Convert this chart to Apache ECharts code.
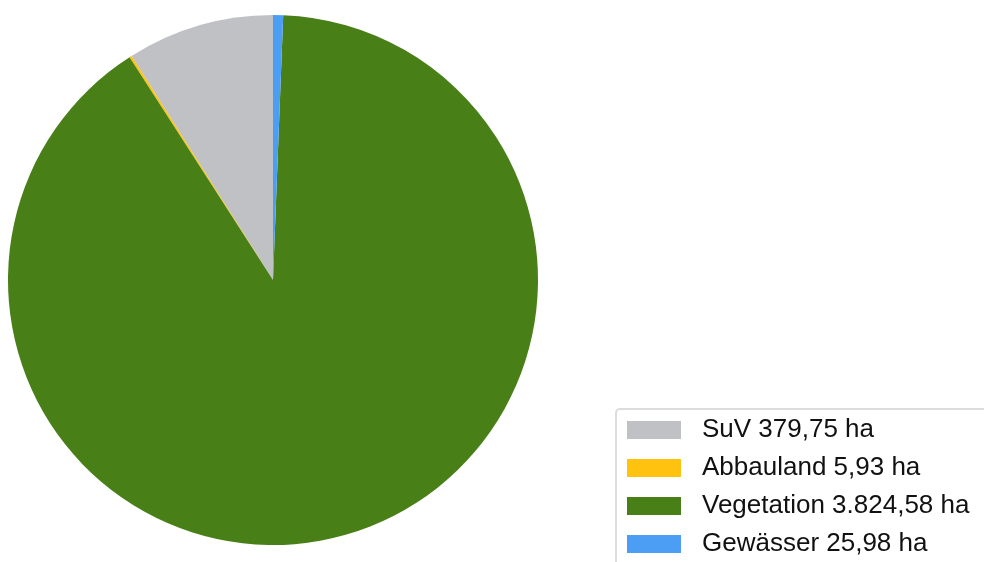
<!DOCTYPE html>
<html><head><meta charset="utf-8">
<script src="https://cdn.jsdelivr.net/npm/echarts@6/dist/echarts.min.js"></script>
<style>html,body{margin:0;padding:0;background:#fff;}#c{width:984px;height:562px;}</style>
</head><body><div id="c"></div>
<script>
const categories = ['SuV', 'Abbauland', 'Vegetation', 'Gewässer'];
const values = [379.75, 5.93, 3824.58, 25.98];
const valueLabels = ['379,75', '5,93', '3.824,58', '25,98'];
const colors = ['#C0C1C5', '#FFC20E', '#487F17', '#4C9EF5'];

const chart = echarts.init(document.getElementById('c'), null, {renderer: 'canvas'});
chart.setOption({
  animation: false,
  color: colors,
  legend: {
    orient: 'vertical',
    left: 616, top: 409, height: 400,
    itemWidth: 54, itemHeight: 18, itemGap: 12,
    padding: [8, 40, 40, 11],
    borderColor: '#dcdcdc', borderWidth: 2, borderRadius: 4,
    icon: 'rect',
    textStyle: {fontFamily: 'Liberation Sans, Arial, sans-serif', fontSize: 26, color: '#111', padding: [0, 0, 0, 16]},
    formatter: function (name) { const i = categories.indexOf(name); return name + ' ' + valueLabels[i] + ' ha'; },
    data: categories
  },
  series: [{
    type: 'pie',
    center: [273, 280], radius: 265,
    startAngle: 90, clockwise: false,
    label: {show: false}, labelLine: {show: false},
    itemStyle: {borderWidth: 0},
    emphasis: {disabled: true},
    data: categories.map((c, i) => ({name: c, value: values[i]}))
  }]
});
</script></body></html>
